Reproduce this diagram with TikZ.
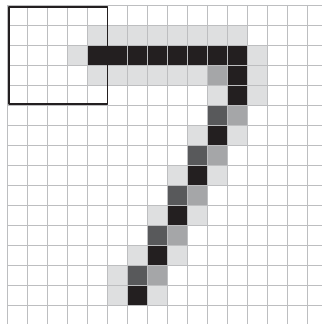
\documentclass[tikz,border=0pt]{standalone}
\usetikzlibrary{positioning}
\definecolor{pixlight}{HTML}{DEDFE0}
\definecolor{pixmid}{HTML}{A5A6A8}
\definecolor{pixdark}{HTML}{58595B}
\definecolor{pixblack}{HTML}{231F20}
\definecolor{gridgray}{HTML}{BDBEC0}

\begin{document}
\begin{tikzpicture}[
    x=1cm, y=-1cm,
    pixel/.style={fill=#1},
    gridline/.style={draw=gridgray, line width=1.4pt},
    window/.style={draw=pixblack, line width=2.8pt, line cap=round, line join=round}
]
\useasboundingbox (0,0) rectangle (16.1,16.2);

% Digit pixels, column/row
\foreach \c/\r in {4/1,5/1,6/1,7/1,8/1,9/1,10/1,11/1,3/2,12/2,4/3,5/3,6/3,7/3,8/3,9/3,12/3,
                   10/4,12/4,9/6,11/6,8/8,10/8,7/10,9/10,6/12,8/12,5/13,5/14,7/14}
    \fill[pixel=pixlight] (0.35+\c,0.25+\r) rectangle ++(1,1);
\foreach \c/\r in {10/3,11/5,10/7,9/9,8/11,7/13}
    \fill[pixel=pixmid] (0.35+\c,0.25+\r) rectangle ++(1,1);
\foreach \c/\r in {10/5,9/7,8/9,7/11,6/13}
    \fill[pixel=pixdark] (0.35+\c,0.25+\r) rectangle ++(1,1);
\foreach \c/\r in {4/2,5/2,6/2,7/2,8/2,9/2,10/2,11/2,11/3,11/4,10/6,9/8,8/10,7/12,6/14}
    \fill[pixel=pixblack] (0.35+\c,0.25+\r) rectangle ++(1,1);

% Grid
\foreach \i in {0,...,15} {
    \draw[gridline] (0.35+\i,0.25) -- (0.35+\i,16.2);
    \draw[gridline] (0.35,0.25+\i) -- (16.1,0.25+\i);
}

% Window
\draw[window] (0.45,0.33) rectangle (5.375,5.2);
\end{tikzpicture}
\end{document}
